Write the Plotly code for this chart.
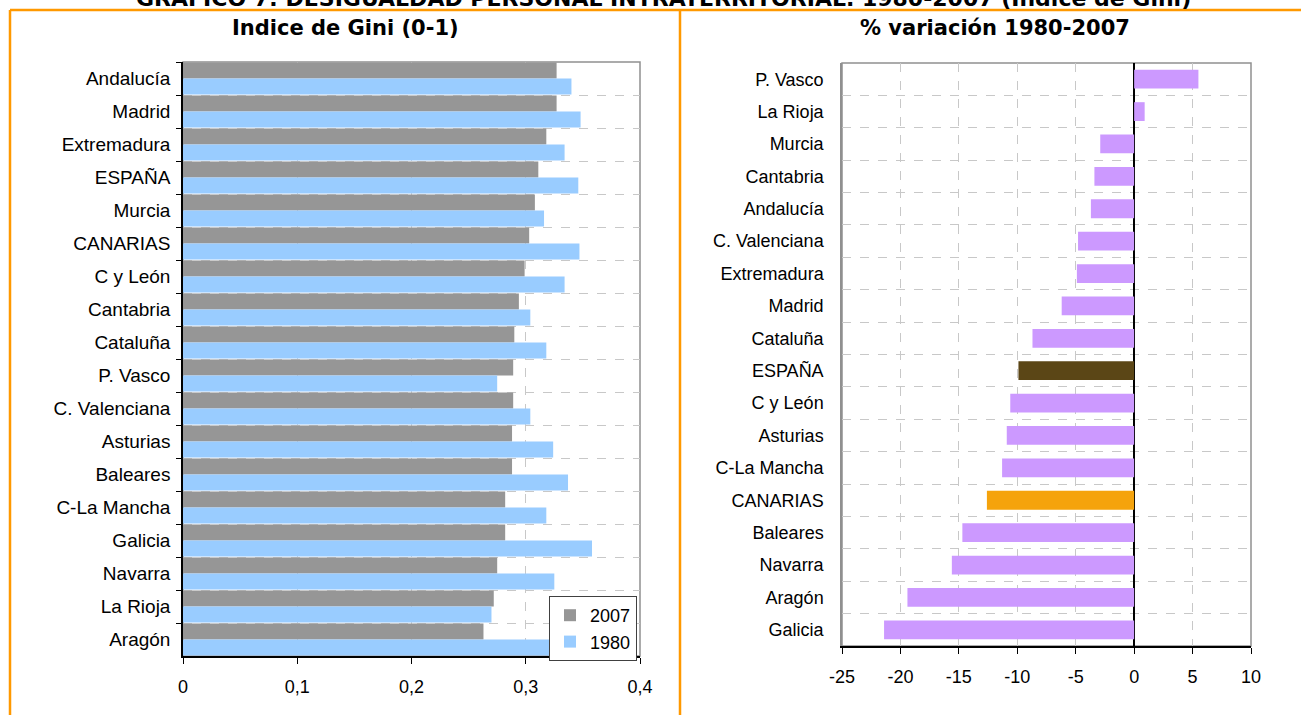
import plotly.graph_objects as go

W, H = 1301, 715

# left chart: Gini index (0-1), top to bottom
regiones = ["Andalucía", "Madrid", "Extremadura", "ESPAÑA", "Murcia", "CANARIAS",
            "C y León", "Cantabria", "Cataluña", "P. Vasco", "C. Valenciana",
            "Asturias", "Baleares", "C-La Mancha", "Galicia", "Navarra",
            "La Rioja", "Aragón"]
gini_2007 = [0.327, 0.327, 0.318, 0.311, 0.308, 0.303, 0.299, 0.294, 0.290,
             0.289, 0.289, 0.288, 0.288, 0.282, 0.282, 0.275, 0.272, 0.263]
gini_1980 = [0.340, 0.348, 0.334, 0.346, 0.316, 0.347, 0.334, 0.304, 0.318,
             0.275, 0.304, 0.324, 0.337, 0.318, 0.358, 0.325, 0.270, 0.327]

# right chart: % variation 1980-2007, top to bottom
regiones_var = ["P. Vasco", "La Rioja", "Murcia", "Cantabria", "Andalucía",
                "C. Valenciana", "Extremadura", "Madrid", "Cataluña", "ESPAÑA",
                "C y León", "Asturias", "C-La Mancha", "CANARIAS", "Baleares",
                "Navarra", "Aragón", "Galicia"]
variacion = [5.5, 0.9, -2.9, -3.4, -3.7, -4.8, -4.9, -6.2, -8.7, -9.9,
             -10.6, -10.9, -11.3, -12.6, -14.7, -15.6, -19.4, -21.4]

ticks_var = [-25, -20, -15, -10, -5, 0, 5, 10]
ticks_var_txt = ["-25", "-20", "-15", "-10", "-5", "0", "5", "10"]

ORANGE = "#FF9900"
PURPLE = "#CC99FF"
colores = []
for r in regiones_var:
    if r == "ESPAÑA":
        colores.append("#5B4616")
    elif r == "CANARIAS":
        colores.append("#F5A30C")
    else:
        colores.append(PURPLE)

FONT = "Liberation Sans, Arial, sans-serif"
BOLD = "DejaVu Sans, Verdana, sans-serif"

def px_x(v):
    return v / W

def px_y(v):
    return 1 - v / H

fig = go.Figure()
fig.add_trace(go.Bar(y=regiones, x=gini_2007, orientation="h", name="2007",
                     marker=dict(color="#969696", line=dict(width=0)),
                     xaxis="x", yaxis="y"))
fig.add_trace(go.Bar(y=regiones, x=gini_1980, orientation="h", name="1980",
                     marker=dict(color="#99CCFF", line=dict(width=0)),
                     xaxis="x", yaxis="y"))
fig.add_trace(go.Bar(y=regiones_var, x=variacion, orientation="h",
                     marker=dict(color=colores, line=dict(width=0)),
                     width=0.58, offset=-0.29, showlegend=False,
                     xaxis="x2", yaxis="y2"))

grid = "#C8C8C8"
fig.update_layout(
    width=W, height=H,
    margin=dict(l=0, r=0, t=0, b=0, autoexpand=False),
    paper_bgcolor="white", plot_bgcolor="white",
    separators=",.",
    barmode="group", bargap=0.03, bargroupgap=0,
    font=dict(family=FONT, size=18, color="black"),
    showlegend=True,
    legend=dict(x=px_x(637), y=px_y(596), xanchor="right", yanchor="top",
                bgcolor="white", bordercolor="#404040", borderwidth=1,
                font=dict(size=18), itemwidth=30, tracegroupgap=0),
    xaxis=dict(domain=[px_x(183), px_x(640)], range=[0, 0.4], dtick=0.1,
               showgrid=True, gridcolor=grid, griddash="dash", zeroline=False,
               showline=True, linecolor="black", linewidth=1.5,
               ticks="outside", ticklen=6, tickcolor="black",
               ticklabelstandoff=8, anchor="y", automargin=False, fixedrange=True),
    yaxis=dict(domain=[px_y(656), px_y(62)], categoryorder="array",
               categoryarray=regiones, autorange="reversed",
               tickson="boundaries", showgrid=True, gridcolor=grid,
               griddash="dash", showline=True, linecolor="black", linewidth=1.5,
               ticks="outside", ticklen=5, tickcolor="black",
               tickfont=dict(size=19), ticklabelstandoff=7, anchor="x",
               automargin=False, fixedrange=True),
    xaxis2=dict(domain=[px_x(842), px_x(1251)], range=[-25, 10],
                tickvals=ticks_var, ticktext=ticks_var_txt,
                showgrid=True, gridcolor=grid, griddash="dash",
                zeroline=True, zerolinecolor="black", zerolinewidth=1.5,
                showline=True, linecolor="black", linewidth=1.5,
                ticks="outside", ticklen=6, tickcolor="black",
                ticklabelstandoff=8, anchor="y2", automargin=False,
                fixedrange=True),
    yaxis2=dict(domain=[px_y(646), px_y(63)], categoryorder="array",
                categoryarray=regiones_var, autorange="reversed",
                tickson="boundaries", showgrid=True, gridcolor=grid,
                griddash="dash", showline=True, linecolor="#909090",
                linewidth=1.5, ticks="", ticklabelstandoff=13,
                tickfont=dict(size=18), anchor="x2", automargin=False,
                fixedrange=True),
)

# gray frames around both plot areas
for xr, yr in (("x domain", "y domain"), ("x2 domain", "y2 domain")):
    fig.add_shape(type="rect", xref=xr, yref=yr, x0=0, x1=1, y0=0, y1=1,
                  line=dict(color="#909090", width=1.5), layer="below")

# orange frame lines of the original graphic
fig.add_shape(type="line", xref="paper", yref="paper", x0=px_x(10), x1=1,
              y0=px_y(10), y1=px_y(10), line=dict(color=ORANGE, width=2.5))
fig.add_shape(type="line", xref="paper", yref="paper", x0=px_x(10), x1=px_x(10),
              y0=0, y1=px_y(10), line=dict(color=ORANGE, width=2.5))
fig.add_shape(type="line", xref="paper", yref="paper", x0=px_x(680), x1=px_x(680),
              y0=0, y1=px_y(10), line=dict(color=ORANGE, width=2.5))

fig.add_annotation(text="<b>GRÁFICO 7: DESIGUALDAD PERSONAL INTRATERRITORIAL. 1980-2007 (Indice de Gini)</b>",
                   xref="paper", yref="paper", x=px_x(663), y=px_y(-2),
                   xanchor="center", yanchor="middle", showarrow=False,
                   font=dict(family=BOLD, size=22, color="black"))
fig.add_annotation(text="<b>Indice de Gini (0-1)</b>", xref="paper", yref="paper",
                   x=px_x(345), y=px_y(28), xanchor="center", yanchor="middle",
                   showarrow=False, font=dict(family=BOLD, size=21, color="black"))
fig.add_annotation(text="<b>% variación 1980-2007</b>", xref="paper", yref="paper",
                   x=px_x(995), y=px_y(28), xanchor="center", yanchor="middle",
                   showarrow=False, font=dict(family=BOLD, size=21, color="black"))

# drop the browser's default page margin so the figure sits at the window origin
fig.write_html("out.html", config={"displayModeBar": False},
               post_script="document.body.style.margin = '0px';")
